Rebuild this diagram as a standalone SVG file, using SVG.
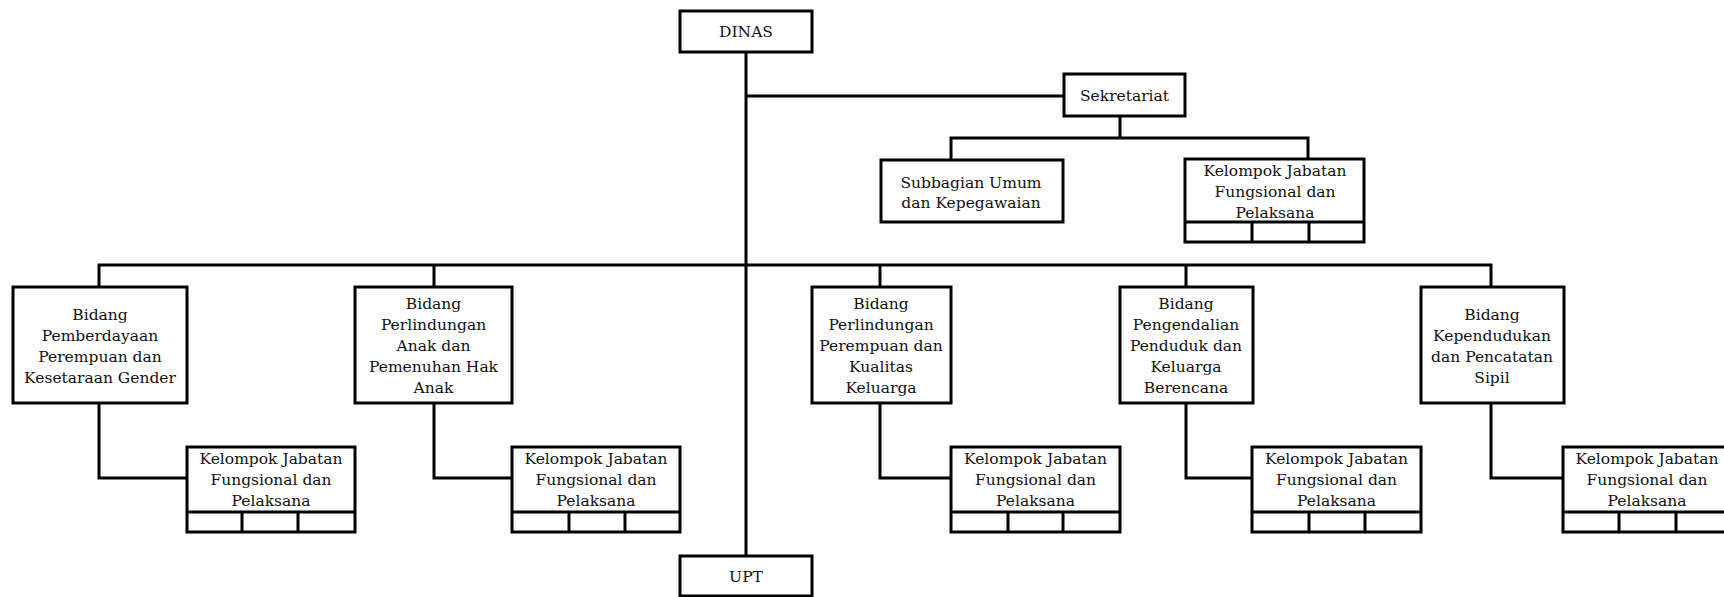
<svg xmlns="http://www.w3.org/2000/svg" width="1724" height="597" viewBox="0 0 1724 597">
<style>
.box{fill:#fff;stroke:#000;stroke-width:3}
.ln{fill:none;stroke:#000;stroke-width:3}
.t{font-family:"DejaVu Serif","Liberation Serif",serif;font-size:15.5px;text-anchor:middle;fill:#111}
</style>
<rect width="1724" height="597" fill="#fff"/>
<g id="connectors">
<path class="ln" d="M746 52V556"/>
<path class="ln" d="M746 96H1064"/>
<path class="ln" d="M1120 116V138"/>
<path class="ln" d="M951 160V138H1308V159"/>
<path class="ln" d="M99 287V265H1491V287"/>
<path class="ln" d="M434 265V287M880 265V287M1186 265V287"/>
<path class="ln" d="M99 403V478H187"/>
<path class="ln" d="M434 403V478H512"/>
<path class="ln" d="M880 403V478H951"/>
<path class="ln" d="M1186 403V478H1252"/>
<path class="ln" d="M1491 403V478H1563"/>
</g>
<g id="dinas">
<rect class="box" x="680" y="11" width="132" height="41"/>
<text class="t" x="746" y="37">DINAS</text>
</g>
<g id="sekretariat">
<rect class="box" x="1064" y="74" width="121" height="42"/>
<text class="t" x="1124.5" y="100.5">Sekretariat</text>
</g>
<g id="subbagian">
<rect class="box" x="881" y="160" width="182" height="62"/>
<text class="t" x="971" y="188">Subbagian Umum</text>
<text class="t" x="971" y="208">dan Kepegawaian</text>
</g>
<g id="kelompok-sekretariat">
<rect class="box" x="1185" y="159" width="179" height="83"/>
<path class="ln" d="M1185 222H1364M1252 222V242M1309 222V242"/>
<text class="t" x="1275" y="176">Kelompok Jabatan</text>
<text class="t" x="1275" y="197">Fungsional dan</text>
<text class="t" x="1275" y="218">Pelaksana</text>
</g>
<g id="bidang-pppkg">
<rect class="box" x="13" y="287" width="174" height="116"/>
<text class="t" x="100" y="320">Bidang</text>
<text class="t" x="100" y="341">Pemberdayaan</text>
<text class="t" x="100" y="362">Perempuan dan</text>
<text class="t" x="100" y="383">Kesetaraan Gender</text>
</g>
<g id="bidang-ppa">
<rect class="box" x="355" y="287" width="157" height="116"/>
<text class="t" x="433.5" y="309">Bidang</text>
<text class="t" x="433.5" y="330">Perlindungan</text>
<text class="t" x="433.5" y="351">Anak dan</text>
<text class="t" x="433.5" y="372">Pemenuhan Hak</text>
<text class="t" x="433.5" y="393">Anak</text>
</g>
<g id="bidang-ppkk">
<rect class="box" x="812" y="287" width="139" height="116"/>
<text class="t" x="881" y="309">Bidang</text>
<text class="t" x="881" y="330">Perlindungan</text>
<text class="t" x="881" y="351">Perempuan dan</text>
<text class="t" x="881" y="372">Kualitas</text>
<text class="t" x="881" y="393">Keluarga</text>
</g>
<g id="bidang-ppkb">
<rect class="box" x="1120" y="287" width="133" height="116"/>
<text class="t" x="1186" y="309">Bidang</text>
<text class="t" x="1186" y="330">Pengendalian</text>
<text class="t" x="1186" y="351">Penduduk dan</text>
<text class="t" x="1186" y="372">Keluarga</text>
<text class="t" x="1186" y="393">Berencana</text>
</g>
<g id="bidang-kpc">
<rect class="box" x="1421" y="287" width="143" height="116"/>
<text class="t" x="1492" y="320">Bidang</text>
<text class="t" x="1492" y="341">Kependudukan</text>
<text class="t" x="1492" y="362">dan Pencatatan</text>
<text class="t" x="1492" y="383">Sipil</text>
</g>
<g id="kelompok-1">
<rect class="box" x="187" y="447" width="168" height="85"/>
<path class="ln" d="M187 512H355M242 512V532M298 512V532"/>
<text class="t" x="271" y="464">Kelompok Jabatan</text>
<text class="t" x="271" y="485">Fungsional dan</text>
<text class="t" x="271" y="505.5">Pelaksana</text>
</g>
<g id="kelompok-2">
<rect class="box" x="512" y="447" width="168" height="85"/>
<path class="ln" d="M512 512H680M569 512V532M625 512V532"/>
<text class="t" x="596" y="464">Kelompok Jabatan</text>
<text class="t" x="596" y="485">Fungsional dan</text>
<text class="t" x="596" y="505.5">Pelaksana</text>
</g>
<g id="kelompok-3">
<rect class="box" x="951" y="447" width="169" height="85"/>
<path class="ln" d="M951 512H1120M1008 512V532M1063 512V532"/>
<text class="t" x="1035.5" y="464">Kelompok Jabatan</text>
<text class="t" x="1035.5" y="485">Fungsional dan</text>
<text class="t" x="1035.5" y="505.5">Pelaksana</text>
</g>
<g id="kelompok-4">
<rect class="box" x="1252" y="447" width="169" height="85"/>
<path class="ln" d="M1252 512H1421M1309 512V532M1365 512V532"/>
<text class="t" x="1336.5" y="464">Kelompok Jabatan</text>
<text class="t" x="1336.5" y="485">Fungsional dan</text>
<text class="t" x="1336.5" y="505.5">Pelaksana</text>
</g>
<g id="kelompok-5">
<rect class="box" x="1563" y="447" width="168" height="85"/>
<path class="ln" d="M1563 512H1731M1619 512V532M1676 512V532"/>
<text class="t" x="1647" y="464">Kelompok Jabatan</text>
<text class="t" x="1647" y="485">Fungsional dan</text>
<text class="t" x="1647" y="505.5">Pelaksana</text>
</g>
<g id="upt">
<rect class="box" x="680" y="556" width="132" height="40"/>
<text class="t" x="746" y="582">UPT</text>
</g>
</svg>
